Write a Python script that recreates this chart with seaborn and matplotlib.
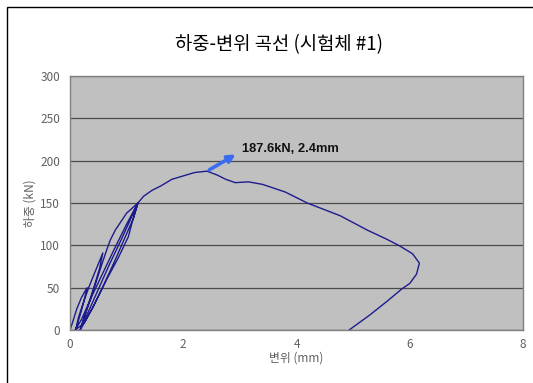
import pandas as pd
import seaborn as sns
import matplotlib.pyplot as plt
from matplotlib.patches import Rectangle

# Load-displacement record, in test order
disp = [0.0, 0.05, 0.12, 0.2, 0.3,
        0.25, 0.18, 0.1,
        0.15, 0.25, 0.33, 0.42, 0.5, 0.58,
        0.52, 0.42, 0.3, 0.18,
        0.25, 0.38, 0.5, 0.6, 0.65, 0.71, 0.8, 0.92, 1.0, 1.1, 1.2,
        1.1, 1.03, 0.85, 0.65, 0.45, 0.25, 0.09,
        0.2, 0.4, 0.6, 0.8, 1.0, 1.15, 1.2,
        1.12, 0.95, 0.78, 0.6, 0.4, 0.18,
        0.3, 0.5, 0.7, 0.9, 1.05, 1.2,
        1.3, 1.45, 1.6, 1.8, 2.0, 2.2, 2.42,
        2.6, 2.75, 2.92, 3.15, 3.4, 3.8, 4.19, 4.77, 5.25, 5.6, 5.83, 6.05, 6.17,
        6.12, 6.0, 5.85, 5.78, 5.6, 5.3, 4.93]
load = [0, 10, 25, 38, 50,
        35, 18, 0,
        15, 35, 50, 65, 78, 91,
        72, 50, 25, 0,
        15, 40, 65, 85, 95, 106, 118, 130, 138, 144, 150,
        128, 110, 85, 60, 33, 8, 0,
        12, 42, 70, 98, 125, 144, 150,
        132, 106, 80, 54, 26, 0,
        18, 48, 78, 106, 128, 150,
        158, 165, 170, 178, 182, 186, 187.6,
        183, 178, 174, 175, 172, 163, 150, 135, 118, 107, 99, 90, 79,
        66, 55, 48, 44, 34, 18, 0]

peak_disp = 2.42
peak_load = 187.6
peak_label = '187.6kN, 2.4mm'

df = pd.DataFrame({'disp': disp, 'load': load})

sns.set_style('white')
plt.rcParams['font.family'] = ['Noto Sans CJK KR', 'DejaVu Sans']

fig = plt.figure(figsize=(5.33, 3.83), dpi=100)
ax = fig.add_axes([70 / 533, 53 / 383, 453 / 533, 254 / 383])
ax.set_facecolor('#c0c0c0')

# outer chart frame (only top and left edges visible in the crop)
fig.patches.append(Rectangle((7 / 533, -0.5), 2, 1.5 - 7 / 383,
                             transform=fig.transFigure, fill=False,
                             edgecolor='black', linewidth=1.0))

sns.lineplot(data=df, x='disp', y='load', sort=False, estimator=None,
             color='#1c1c8c', linewidth=1.0, ax=ax)

ax.set_xlim(0, 8)
ax.set_ylim(0, 300)
ax.set_xticks([0, 2, 4, 6, 8])
ax.set_yticks(range(0, 301, 50))
ax.yaxis.grid(True, color='#4a4a4a', linewidth=0.9)
ax.xaxis.grid(False)
ax.set_axisbelow(True)
for s in ax.spines.values():
    s.set_color('#808080')
    s.set_linewidth(1.0)
ax.tick_params(axis='x', direction='in', length=3, color='#606060',
               labelsize=8.5, labelcolor='#606060', pad=6)
ax.tick_params(axis='y', length=0, labelsize=8.5, labelcolor='#606060', pad=7)

ax.set_xlabel('변위 (mm)', fontsize=8.5, color='#606060', labelpad=0)
ax.set_ylabel('하중 (kN)', fontsize=8.5, color='#606060', labelpad=3)

fig.text(279 / 533, 1 - 45 / 383, '하중-변위 곡선 (시험체 #1)', fontsize=13.5,
         ha='center', va='center', color='black')

ax.annotate('', xy=(2.97, 209), xytext=(peak_disp, peak_load),
            arrowprops=dict(arrowstyle='-|>', color='#3b6cf0', lw=2.6,
                            mutation_scale=11))
ax.text(3.03, 214, peak_label, fontsize=9.3, fontweight='bold',
        family=['Liberation Sans', 'DejaVu Sans'], va='center', ha='left',
        color='#111111')

fig.savefig('out.png', dpi=100)
